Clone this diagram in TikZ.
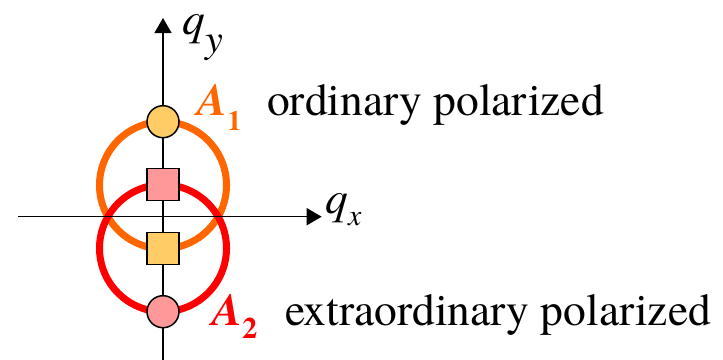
\documentclass[tikz,border=0pt]{standalone}
\usepackage{fontspec}
\setmainfont{texgyretermes}[Extension=.otf, UprightFont=*-regular, BoldFont=*-bold, ItalicFont=*-italic, BoldItalicFont=*-bolditalic]
\usetikzlibrary{arrows.meta,positioning}
\definecolor{ringorange}{HTML}{FF6600}
\definecolor{ringred}{HTML}{FF0000}
\definecolor{dotorange}{HTML}{FFCC66}
\definecolor{dotpink}{HTML}{FF9999}

\begin{document}
\begin{tikzpicture}[
  x=0.02cm, y=-0.02cm,
  axis/.style={line width=0.85pt, -{Triangle[length=0.3cm, width=0.34cm]}},
  ring/.style={line width=4pt},
  dot/.style={draw, circle, line width=0.85pt, minimum size=0.64cm, inner sep=0pt},
  tile/.style={draw, rectangle, line width=0.85pt, minimum size=0.64cm, inner sep=0pt},
  lab/.style={inner sep=0pt, anchor=base west, font=\fontsize{25.9}{30}\selectfont}
]
\useasboundingbox (0,0) rectangle (723,359);

% ring centres and axis ends
\coordinate (c1) at (163,185.2);
\coordinate (c2) at (163,248.2);
\coordinate (xl) at (18,216.7);
\coordinate (xr) at (321.7,216.7);
\coordinate (yb) at (163,362);
\coordinate (yt) at (163,18);

\draw[ring, ringorange] (c1) circle[radius=63.5];
\draw[ring, ringred] (c2) circle[radius=63.5];

\draw[axis] (xl) -- (xr);
\draw[axis] (yb) -- (yt);

\node[dot, fill=dotorange] (a1) at (163,121.7) {};
\node[tile, fill=dotpink] (s1) at (163,184.7) {};
\node[tile, fill=dotorange] (s2) at (163,248.7) {};
\node[dot, fill=dotpink] (a2) at (163,311.7) {};

% axis labels
\node[lab] (qx) at (325,213) {\itshape q\raisebox{-0.24cm}{\fontsize{17}{17}\selectfont x}};
\node[lab] (qy) at (182,34) {\itshape q\raisebox{-0.36cm}{\fontsize{22.8}{23}\selectfont y}};

% mode labels
\node[lab, text=ringorange] (a1lab) at (196.7,115) {\bfseries\itshape A\raisebox{-0.3cm}{\upshape\fontsize{16}{16}\selectfont 1}};
\node[lab, right=0.5cm of a1lab.base east, anchor=base west] (a1txt) {ordinary polarized};
\node[lab, text=ringred] (a2lab) at (211.7,325) {\bfseries\itshape A\raisebox{-0.26cm}{\upshape\fontsize{17}{17}\selectfont 2}};
\node[lab, right=0.54cm of a2lab.base east, anchor=base west] (a2txt) {extraordinary polarized};
\end{tikzpicture}
\end{document}
